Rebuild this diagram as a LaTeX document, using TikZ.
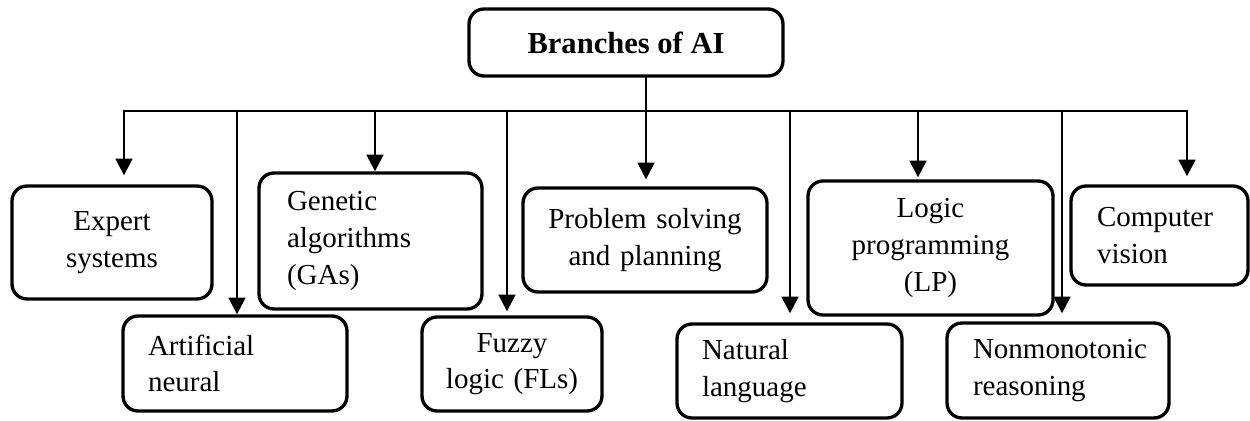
\documentclass[tikz,border=0pt]{standalone}
\usepackage{fontspec}
\setmainfont{Liberation Serif}
\usetikzlibrary{arrows.meta}

\begin{document}
\begin{tikzpicture}[line cap=round,line join=round,>={Triangle[width=9.5pt,length=9.5pt]},x=0.02cm,y=-0.02cm,
  branch/.style={draw,line width=1.9pt,rounded corners=0.3cm,inner ysep=0pt,font=\fontsize{16.5}{20.8}\selectfont},
  conn/.style={line width=1.5pt}]
\useasboundingbox (0,0) rectangle (1250,421);
% root
\node[branch,minimum width=6.28cm,minimum height=1.34cm,font=\fontsize{17.4}{21}\selectfont\bfseries] (root) at (626,42.5) {Branches of AI};
% upper row
\node[branch,align=center,text width=3.4cm,inner xsep=0.3cm,minimum height=2.26cm] (expert) at (112,242.5) {Expert\\systems};
\node[branch,align=left,text width=3.34cm,inner xsep=0.56cm,minimum height=2.72cm] (genetic) at (370.5,241) {Genetic\\algorithms\\(GAs)};
\node[branch,align=center,text width=4.28cm,inner xsep=0.3cm,minimum height=2.08cm] (problem) at (645,240) {Problem solving\\and planning};
\node[branch,align=center,text width=4.3cm,inner xsep=0.3cm,minimum height=2.68cm] (logic) at (930.5,248) {Logic\\programming\\(LP)};
\node[branch,align=left,text width=2.5cm,inner xsep=0.52cm,minimum height=1.98cm] (computer) at (1159.5,235.5) {Computer\\vision};
% lower row
\node[branch,align=left,text width=3.48cm,inner xsep=0.5cm,minimum height=1.9cm] (artificial) at (235,363.5) {Artificial\\neural};
\node[branch,align=center,text width=3.0cm,inner xsep=0.3cm,minimum height=1.88cm] (fuzzy) at (512,364) {Fuzzy\\logic (FLs)};
\node[branch,align=left,text width=3.5cm,inner xsep=0.5cm,minimum height=1.88cm] (natural) at (789.5,371) {Natural\\language};
\node[branch,align=left,text width=3.4cm,inner xsep=0.52cm,minimum height=1.9cm] (nonmono) at (1058,370.5) {Nonmonotonic\\reasoning};
% bus
\coordinate (busL) at (124,111);
\coordinate (busR) at (1187,111);
\coordinate (rootdrop) at (646,111);
\draw[conn] (root.south -| rootdrop) -- (rootdrop);
\draw[conn] (busL) -- (busR);
\foreach \x/\n/\g in {124/expert/9,375/genetic/0,646/problem/7,918/logic/2,1187/computer/8}
  \draw[conn,->,shorten >=\g*0.02cm] (\x,111) -- (\n.north -| \x,0);
\foreach \x/\n/\g in {237/artificial/0,507/fuzzy/4,790/natural/9,1062/nonmono/8}
  \draw[conn,->,shorten >=\g*0.02cm] (\x,111) -- (\n.north -| \x,0);
\end{tikzpicture}
\end{document}
